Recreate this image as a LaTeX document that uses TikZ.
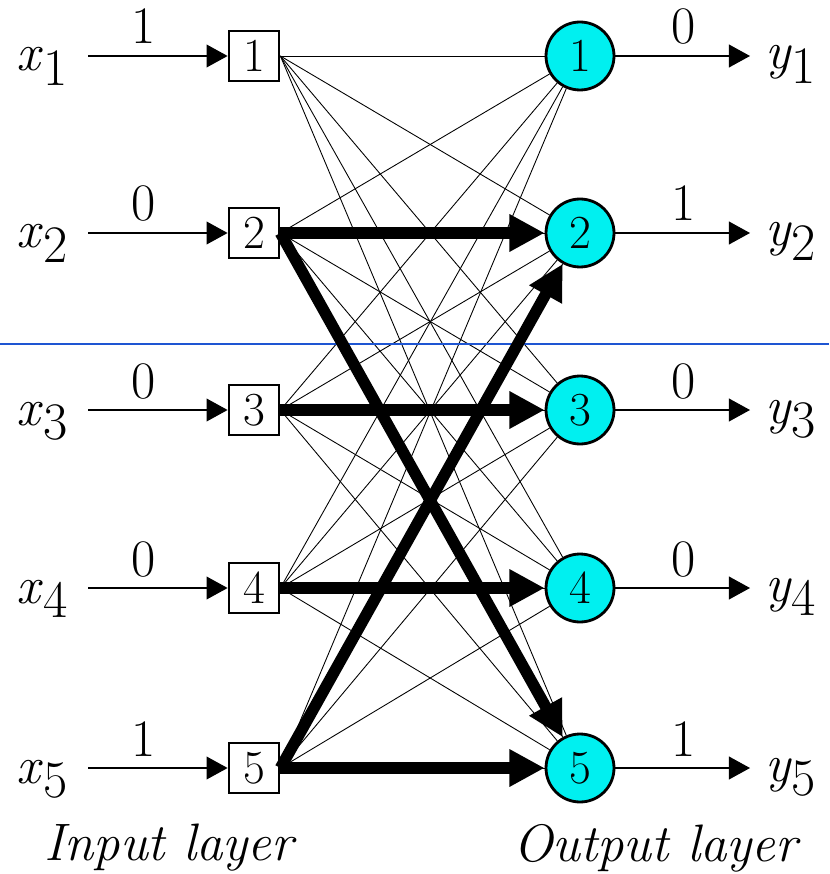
\documentclass[tikz,border=0pt]{standalone}
\usepackage{xcolor}
\usetikzlibrary{arrows.meta, positioning}
\definecolor{neuroncyan}{RGB}{0, 240, 240}
\definecolor{guideblue}{RGB}{30, 85, 210}

\begin{document}
\begin{tikzpicture}[x=0.02cm, y=-0.02cm,
  inbox/.style={draw, line width=1.6pt, fill=white, minimum size=1cm, inner sep=0pt, font=\fontsize{27}{27}\selectfont},
  outcircle/.style={circle, draw, line width=1.6pt, fill=neuroncyan, minimum size=1.36cm, inner sep=0pt, font=\fontsize{27}{27}\selectfont},
  weight/.style={line width=0.5pt},
  signal/.style={line width=0.7pt, -{Triangle[length=12pt, width=13pt]}},
  winner/.style={line width=6.5pt, -{Triangle[length=20pt, width=20pt]}},
  lbl/.style={font=\fontsize{30}{36}\selectfont, inner sep=0pt}]
  \useasboundingbox (0,0) rectangle (829,874);
  \foreach \i/\yy/\xv/\yv in {1/56/1/0, 2/233/0/1, 3/410/0/0, 4/588/0/0, 5/768/1/1} {
    \node[inbox] (in\i) at (254,\yy) {\i};
    \node[outcircle] (out\i) at (580,\yy) {\i};
    \coordinate (src\i) at (88,\yy);
    \coordinate (dst\i) at (750,\yy);
    \draw[signal] (src\i) -- (in\i);
    \draw[signal] (out\i) -- (dst\i);
    \node[lbl, anchor=base] (xv\i) at (144,\yy-12) {\xv};
    \node[lbl, anchor=base] (yv\i) at (684,\yy-12) {\yv};
    \node[lbl, anchor=base east] (xl\i) at (68,\yy+15) {\textit{x}\raisebox{-8pt}{\i}};
    \node[lbl, anchor=base west] (yl\i) at (765,\yy+13) {\textit{y}\raisebox{-8pt}{\i}};
  }
  \foreach \i in {1,...,5}
    \foreach \j in {1,...,5}
      \draw[weight] (in\i.east) -- (out\j);
  \draw[guideblue, line width=0.6pt] (0,344) -- (829,344);
  \draw[winner] (in2.east) -- (out2);
  \draw[winner] (in2.east) -- (out5);
  \draw[winner] (in3.east) -- (out3);
  \draw[winner] (in4.east) -- (out4);
  \draw[winner] (in5.east) -- (out5);
  \draw[winner] (in5.east) -- (out2);
  \node[lbl, anchor=base] (inlayer) at (171,860) {\textit{Input layer}};
  \node[lbl, anchor=base] (outlayer) at (657,861) {\textit{Output layer}};
\end{tikzpicture}
\end{document}
